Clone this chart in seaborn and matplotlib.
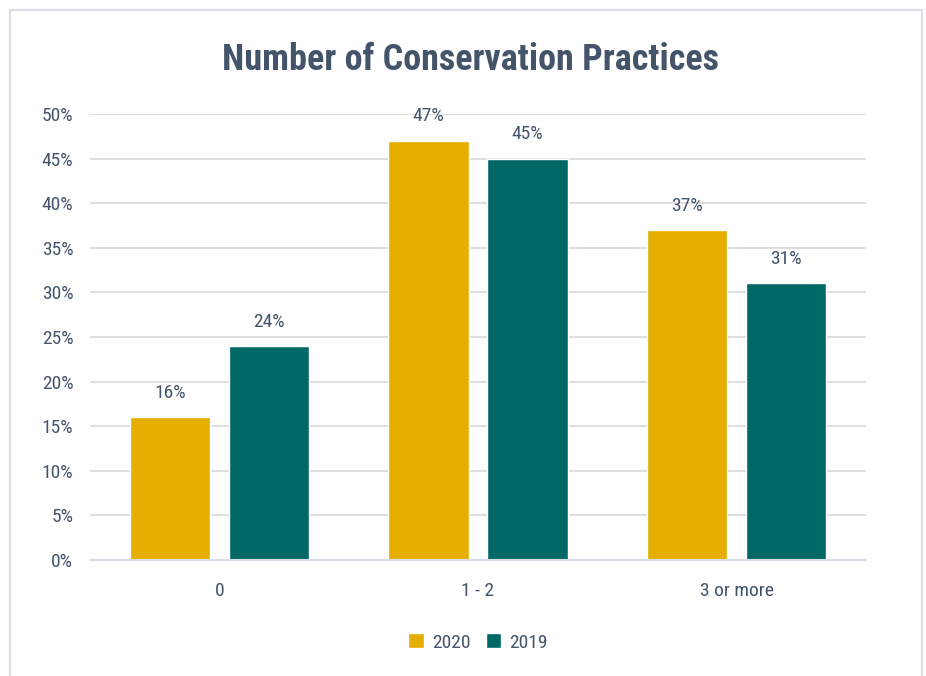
import matplotlib
matplotlib.use("Agg")
import matplotlib.pyplot as plt
from matplotlib import font_manager
from matplotlib.patches import Rectangle
import pandas as pd
import seaborn as sns

categories = ["0", "1 - 2", "3 or more"]
years = ["2020", "2019"]
values_2020 = [16, 47, 37]
values_2019 = [24, 45, 31]
y_ticks = [0, 5, 10, 15, 20, 25, 30, 35, 40, 45, 50]

colors = {"2020": "#E5AE00", "2019": "#006966"}
text_color = "#44546A"

sns.set_theme(style="white")
available = {f.name for f in font_manager.fontManager.ttflist}
family = [f for f in ["Liberation Sans Narrow", "Roboto Condensed", "Open Sans Condensed", "DejaVu Sans"] if f in available]
plt.rcParams["font.family"] = family

df = pd.DataFrame({
    "category": categories * 2,
    "year": [years[0]] * 3 + [years[1]] * 3,
    "value": values_2020 + values_2019,
})

fig = plt.figure(figsize=(9.26, 6.76), dpi=100)
ax = fig.add_axes([90 / 926, 1 - 560 / 676, 776 / 926, 446 / 676])

sns.barplot(data=df, x="category", y="value", hue="year", hue_order=years,
            palette=colors, width=0.765, gap=0.19, ax=ax, saturation=1)

for container in ax.containers:
    ax.bar_label(container, labels=[f"{v:.0f}%" for v in container.datavalues],
                 padding=11, fontsize=14, color=text_color)

ax.set_ylim(0, 50)
ax.set_xlim(-0.5, 2.5)
ax.set_yticks(y_ticks)
ax.set_yticklabels([f"{t}%" for t in y_ticks])
ax.yaxis.grid(True, color="#D9D9D9", linewidth=1.2)
ax.set_axisbelow(True)
for s in ["top", "right", "left"]:
    ax.spines[s].set_visible(False)
ax.spines["bottom"].set_color("#D9DEE6")
ax.spines["bottom"].set_linewidth(1.5)
ax.tick_params(axis="both", length=0, labelsize=14, labelcolor=text_color)
ax.tick_params(axis="x", pad=16)
ax.tick_params(axis="y", pad=12)
ax.set_xlabel("")
ax.set_ylabel("")

leg = ax.legend(loc="center", bbox_to_anchor=(0.5, -0.185), ncol=2, frameon=False,
                fontsize=14, handlelength=0.8, handleheight=0.8, columnspacing=0.8,
                handletextpad=0.4)
for t in leg.get_texts():
    t.set_color(text_color)

# title sits a little right of the figure centre, as in the original
fig.text(470 / 926, 1 - 60 / 676, "Number of Conservation Practices", ha="center", va="center",
         fontsize=26, fontweight="bold", color=text_color)

fig.patches.append(Rectangle((10 / 926, -0.01), 912 / 926, 1 - 10 / 676 + 0.01,
                             transform=fig.transFigure, fill=False,
                             edgecolor="#DADFE6", linewidth=1.5))

fig.savefig("out.png", dpi=100)
